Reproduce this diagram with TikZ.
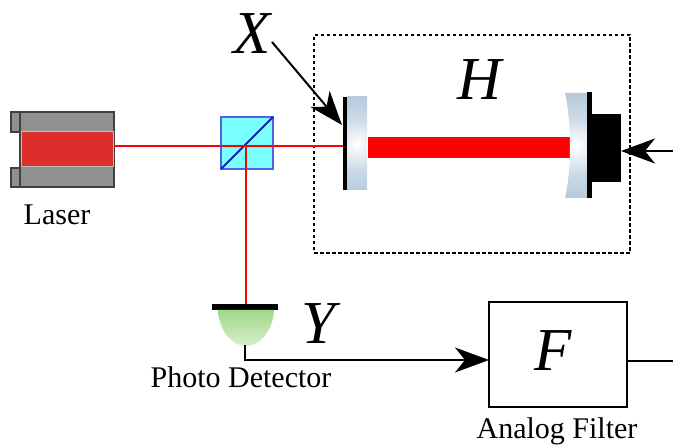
\documentclass[tikz,border=0pt]{standalone}
\usepackage{fontspec}
\setmainfont{Liberation Serif}
\usetikzlibrary{arrows.meta,calc}
\definecolor{lasergray}{HTML}{909090}
\definecolor{laserred}{HTML}{DC2E2C}
\definecolor{cubefill}{HTML}{73FFFF}
\definecolor{cubeedge}{HTML}{5060E0}
\definecolor{diagblue}{HTML}{1020C8}
\definecolor{glass}{HTML}{A4BCD2}
\definecolor{glassmid}{HTML}{CBDAE7}
\definecolor{det}{HTML}{8CCF6C}
\pgfdeclareradialshading{glassrad}{\pgfpointorigin}{color(0bp)=(white); color(12bp)=(glassmid); color(30bp)=(glass); color(50bp)=(glass)}
\tikzset{
  box/.style={inner sep=0pt,outer sep=0pt,minimum width=#1},
  captext/.style={inner sep=0pt,font=\fontsize{30}{30}\selectfont},
  sym/.style={inner sep=0pt,font=\fontsize{61}{61}\selectfont\itshape},
  beam/.style={draw=red,line width=2.2pt},
  wire/.style={draw=black,line width=2pt},
  bigtip/.style={-{Stealth[length=34pt,width=25pt,inset=10pt]}},
}
\begin{document}
\begin{tikzpicture}[x=1pt,y=-1pt]
\useasboundingbox (0,0) rectangle (673,446);
% Laser
\node[box=94pt,minimum height=75pt,fill=lasergray,draw=black!75,line width=1.3pt] (laser) at (67,149.5) {};
\node[box=9pt,minimum height=20pt,fill=lasergray,draw=black!75,line width=1.3pt] (tabtop) at (15.5,122) {};
\node[box=9pt,minimum height=19pt,fill=lasergray,draw=black!75,line width=1.3pt] (tabbot) at (15.5,177.5) {};
\node[box=92pt,minimum height=35pt,fill=laserred,draw=black!25,line width=1pt] (cavity) at (67,149.5) {};
\node[captext] (laserlabel) at (57,215) {Laser};
% dashed housing
\node[box=316pt,minimum height=218pt,draw=black,line width=1.5pt,dash pattern=on 3.5pt off 2.5pt] (housing) at (472,144) {};
% beams
\coordinate (split) at (246,146);
\node[box=4pt,minimum height=93pt,fill=black] (barL) at (345,143.5) {};
\draw[beam] (laser.east |- split) -- (split) -- (barL.west |- split);
% cube
\node[box=52pt,minimum height=52pt,fill=cubefill,fill opacity=.95,draw=cubeedge,line width=2pt] (cube) at (247,143) {};
\draw[draw=diagblue,line width=2pt] (cube.south west) -- (cube.north east);
\draw[beam] (cube.west |- split) -- (split) -- (cube.east |- split);
% detector
\node[box=66pt,minimum height=6pt,fill=black] (detbar) at (245,307) {};
\draw[beam] (split) -- (split |- detbar.north);
\begin{scope}
  \clip (218,310) .. controls (219,331) and (232,346) .. (246,346)
  .. controls (260,346) and (273,331) .. (274,310) -- cycle;
  \shade[top color=det,bottom color=det!14,shading angle=0] (210,296) rectangle (282,362);
\end{scope}
\coordinate (detout) at (245,345);
% left mirror
\begin{scope}
  \clip (347,97) rectangle (367,190);
  \shade[shading=glassrad] (357,144) circle[radius=55];
\end{scope}
\fill[black] (barL.north west) rectangle (barL.south east);
% thick beam
\node[box=202pt,minimum height=21pt,fill=red] (cavitybeam) at (468.5,147.5) {};
% right mirror
\begin{scope}
  \clip (565,93) .. controls (569,112) and (570,130) .. (570,146)
  .. controls (570,162) and (569,180) .. (565,198) -- (587,198) -- (587,93) -- cycle;
  \shade[shading=glassrad] (576,146) circle[radius=60];
\end{scope}
\node[box=5pt,minimum height=106pt,fill=black] (barR) at (589.5,145) {};
\node[box=29pt,minimum height=68pt,fill=black] (block) at (606.5,148) {};
% filter
\node[box=138pt,minimum height=105pt,draw=black,line width=1.5pt,fill=white] (filter) at (558,354.5) {};
\coordinate (rightin) at (673,151);
\coordinate (rightout) at (673,361);
\coordinate (xtail) at (272,42);
\coordinate (xhead) at (342,125);
\coordinate (fin) at (489,360);
\draw[wire,bigtip] (rightin) -- (block.east |- rightin);
\draw[wire,bigtip] (xtail) -- (xhead);
\draw[wire,bigtip] (detout) |- (fin);
\draw[wire] (filter.east |- rightout) -- (rightout);
% labels
\node[captext] (pdlabel) at (241,377) {Photo Detector};
\node[captext] (aflabel) at (557,431) {Analog Filter};
\node[sym] (xlabel) at (252,34) {X};
\node[sym] (hlabel) at (480,80) {H};
\node[sym] (ylabel) at (318,324) {Y};
\node[sym] (flabel) at (553,351) {F};
\end{tikzpicture}
\end{document}
